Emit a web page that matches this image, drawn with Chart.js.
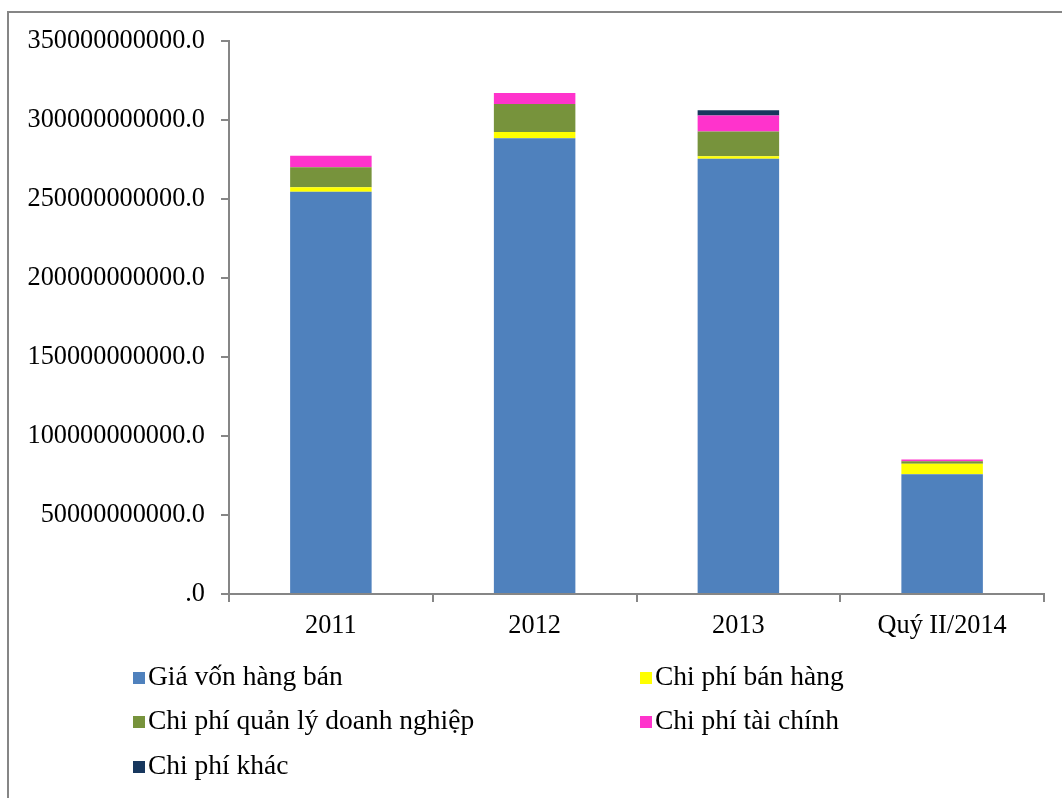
<!DOCTYPE html>
<html>
<head>
<meta charset="utf-8">
<script src="https://cdn.jsdelivr.net/npm/chart.js@4"></script>
<style>
    body { margin: 0; background: #fff; }
    #wrap { position: relative; width: 1062px; height: 798px; }
    #legend { position: absolute; left: 0; top: 0; font-family: "Liberation Serif", serif; font-size: 27.5px; color: #000; }
    .item { position: absolute; white-space: nowrap; line-height: 30px; }
    .item span.box { display: inline-block; width: 12px; height: 12px; margin-right: 3px; vertical-align: 1px; }
</style>
</head>
<body>
<div id="wrap">
    <canvas id="costChart" width="1062" height="798"></canvas>
    <div id="legend"></div>
</div>
<script>
const categories = ['2011', '2012', '2013', 'Quý II/2014'];
const giaVon = [254.6e9, 288.4e9, 275.5e9, 75.8e9];
const banHang = [2.8e9, 4.0e9, 1.5e9, 6.7e9];
const quanLy = [12.7e9, 17.7e9, 15.8e9, 1.5e9];
const taiChinh = [7.2e9, 7.0e9, 10.1e9, 1.1e9];
const khac = [0, 0, 3.2e9, 0];

const seriesNames = ['Giá vốn hàng bán', 'Chi phí bán hàng', 'Chi phí quản lý doanh nghiệp', 'Chi phí tài chính', 'Chi phí khác'];
const seriesColors = ['#4F81BD', '#FFFF00', '#77933C', '#FF33CC', '#17375E'];
const seriesData = [giaVon, banHang, quanLy, taiChinh, khac];

const tickFont = { family: 'Liberation Serif', size: 26.3 };

// khung xám quanh biểu đồ
const framePlugin = {
    id: 'frame',
    beforeDraw(chart) {
        const ctx = chart.ctx;
        ctx.save();
        ctx.strokeStyle = '#868686';
        ctx.lineWidth = 2;
        ctx.strokeRect(8, 12, 1070, 800);
        ctx.restore();
    }
};

const datasets = seriesData.map((data, i) => ({
    label: seriesNames[i],
    data: data,
    backgroundColor: seriesColors[i],
    borderWidth: 0,
    categoryPercentage: 1,
    barPercentage: 0.4
}));

new Chart(document.getElementById('costChart'), {
    type: 'bar',
    data: { labels: categories, datasets: datasets },
    plugins: [framePlugin],
    options: {
        responsive: false,
        animation: false,
        layout: { padding: { top: 41, right: 18, left: 0, bottom: 0 } },
        plugins: {
            legend: { display: false },
            tooltip: { enabled: false }
        },
        scales: {
            x: {
                stacked: true,
                grid: { drawOnChartArea: false, color: '#868686', tickLength: 8, lineWidth: 2 },
                border: { color: '#868686', width: 2 },
                ticks: { color: '#000', font: tickFont, padding: 8 },
                afterFit(scale) { scale.height = 204; }
            },
            y: {
                stacked: true,
                min: 0,
                max: 350e9,
                grid: { drawOnChartArea: false, color: '#868686', tickLength: 8, lineWidth: 2 },
                border: { color: '#868686', width: 2 },
                ticks: {
                    stepSize: 50e9,
                    color: '#000',
                    font: tickFont,
                    padding: 16,
                    callback: v => v === 0 ? '.0' : v + '.0'
                },
                afterFit(scale) { scale.width = 229; }
            }
        }
    }
});

// chú thích 2 cột
const legendPos = [[133, 661], [640, 661], [133, 705], [640, 705], [133, 750]];
const legend = document.getElementById('legend');
seriesNames.forEach((name, i) => {
    const div = document.createElement('div');
    div.className = 'item';
    div.style.left = legendPos[i][0] + 'px';
    div.style.top = legendPos[i][1] + 'px';
    div.innerHTML = '<span class="box" style="background:' + seriesColors[i] + '"></span>' + name;
    legend.appendChild(div);
});
</script>
</body>
</html>
